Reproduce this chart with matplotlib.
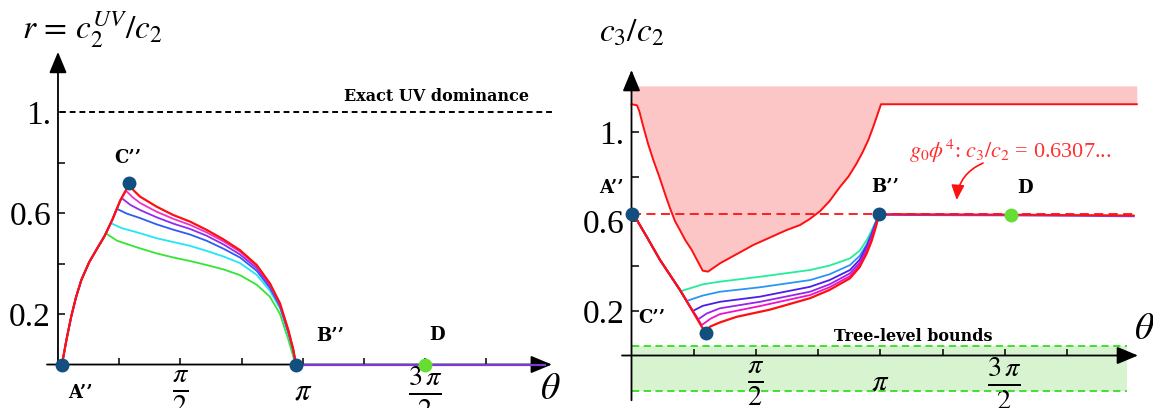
import matplotlib
matplotlib.use("Agg")
import matplotlib.pyplot as plt
import numpy as np

plt.rcParams['font.family'] = ['serif']
plt.rcParams['font.serif'] = ['Liberation Serif', 'DejaVu Serif']
plt.rcParams['mathtext.fontset'] = 'stix'

W, H = 1153, 408

# ---------------- left panel: r = c2^UV / c2 ----------------
# common rising edge A'' -> C''
rise_theta = [0.051, 0.11, 0.17, 0.23, 0.3, 0.4, 0.5, 0.6, 0.7, 0.8, 0.915]
rise_r = [0.0, 0.1, 0.19, 0.265, 0.335, 0.405, 0.458, 0.51, 0.575, 0.65, 0.715]

# falling branches towards B'' (green -> red)
fall_theta = [1.053, 1.267, 1.48, 1.694, 1.909, 2.122, 2.336, 2.551, 2.721, 2.85,
              2.956, 3.02, 3.055]
left_start = {
    "green":   [(0.612, 0.52), (0.76, 0.49)],
    "cyan":    [(0.677, 0.56), (0.82, 0.54)],
    "blue":    [(0.754, 0.617), (0.88, 0.598)],
    "purple":  [(0.818, 0.659), (0.93, 0.632)],
    "magenta": [(0.873, 0.688), (0.96, 0.662)],
    "red":     [(0.915, 0.715), (0.97, 0.690)],
}
left_fall = {
    "green":   [0.46, 0.44, 0.424, 0.41, 0.394, 0.377, 0.354, 0.316, 0.268, 0.20, 0.10, 0.031, 0.0],
    "cyan":    [0.52, 0.5, 0.485, 0.47, 0.45, 0.428, 0.402, 0.355, 0.292, 0.222, 0.122, 0.05, 0.0],
    "blue":    [0.58, 0.555, 0.534, 0.515, 0.49, 0.459, 0.424, 0.371, 0.303, 0.23, 0.128, 0.055, 0.0],
    "purple":  [0.612, 0.583, 0.558, 0.537, 0.51, 0.476, 0.436, 0.381, 0.311, 0.235, 0.132, 0.057, 0.0],
    "magenta": [0.64, 0.605, 0.577, 0.553, 0.523, 0.488, 0.447, 0.389, 0.317, 0.239, 0.135, 0.058, 0.0],
    "red":     [0.665, 0.625, 0.592, 0.566, 0.533, 0.496, 0.453, 0.394, 0.321, 0.242, 0.137, 0.06, 0.0],
}
left_tail_theta = [3.055, 6.25]
left_tail_r = [0.0, 0.0]

left_points = {"A''": (0.051, 0.0), "C''": (0.915, 0.718), "B''": (3.055, 0.0)}
left_D = (4.71, 0.0)
uv_level = 1.0

# ---------------- right panel: c3 / c2 ----------------
phi4_value = 0.6307
desc_theta = [0.0, 0.044, 0.192, 0.36, 0.486, 0.612, 0.739, 0.886, 0.937]
desc_r = [0.6307, 0.62, 0.531, 0.427, 0.36, 0.293, 0.218, 0.129, 0.105]

right_branch = {
    "teal": ([0.625, 0.9, 1.117, 1.622, 2.253, 2.5, 2.758, 2.88, 2.97, 3.03, 3.074, 3.129],
             [0.288, 0.318, 0.330, 0.352, 0.382, 0.402, 0.434, 0.468, 0.516, 0.557, 0.592, 0.632]),
    "lightblue": ([0.697, 0.9, 1.117, 1.622, 2.253, 2.5, 2.758, 2.88, 2.97, 3.03, 3.074, 3.129],
                  [0.244, 0.268, 0.285, 0.305, 0.337, 0.363, 0.404, 0.445, 0.497, 0.547, 0.588, 0.632]),
    "indigo": ([0.773, 0.9, 1.117, 1.622, 2.253, 2.5, 2.758, 2.88, 2.97, 3.03, 3.074, 3.129],
               [0.199, 0.222, 0.240, 0.263, 0.307, 0.337, 0.382, 0.428, 0.489, 0.538, 0.582, 0.632]),
    "purple": ([0.843, 0.95, 1.117, 1.622, 2.253, 2.5, 2.758, 2.88, 2.97, 3.03, 3.074, 3.129],
               [0.162, 0.188, 0.211, 0.240, 0.285, 0.318, 0.367, 0.415, 0.478, 0.530, 0.576, 0.632]),
    "magenta": ([0.886, 1.0, 1.117, 1.622, 2.253, 2.5, 2.758, 2.88, 2.97, 3.03, 3.074, 3.129],
                [0.136, 0.165, 0.185, 0.221, 0.270, 0.305, 0.355, 0.405, 0.468, 0.520, 0.568, 0.632]),
    "red": ([0.937, 0.991, 1.117, 1.328, 1.748, 2.253, 2.5, 2.758, 2.88, 2.97, 3.03, 3.074, 3.129],
            [0.105, 0.129, 0.148, 0.173, 0.205, 0.256, 0.293, 0.345, 0.395, 0.457, 0.510, 0.561, 0.632]),
}
right_tail_theta = [3.129, 4.79, 6.34]
right_tail_r = [0.632, 0.630, 0.626]

upper_theta = [0.0, 0.07, 0.1, 0.149, 0.21, 0.275, 0.35, 0.43, 0.49, 0.55, 0.612, 0.68,
               0.76, 0.83, 0.899, 0.966, 1.117, 1.538, 1.96, 2.127, 2.25, 2.38, 2.5,
               2.633, 2.74, 2.843, 2.92, 2.99, 3.05, 3.096, 3.15, 6.38]
upper_r = [1.123, 1.118, 1.09, 1.023, 0.945, 0.874, 0.80, 0.715, 0.655, 0.60, 0.56, 0.515,
           0.472, 0.425, 0.379, 0.375, 0.412, 0.494, 0.561, 0.583, 0.61, 0.645, 0.69,
           0.754, 0.80, 0.859, 0.91, 0.963, 1.02, 1.067, 1.123, 1.123]
upper_top = 1.205

tree_low, tree_high = -0.16, 0.044
tree_theta = [0.0, 6.256]

right_points = {"A''": (0.0, 0.6307), "C''": (0.937, 0.102), "B''": (3.129, 0.632)}
right_D = (4.79, 0.63)

left_colors = {"green": "#33e633", "cyan": "#22e5f5", "blue": "#2f5cf0",
               "purple": "#8f2cf0", "magenta": "#f030c8", "red": "#ff1010"}
right_colors = {"teal": "#22ee99", "lightblue": "#2a95f5", "indigo": "#4a1ee8",
                "purple": "#9a22ee", "magenta": "#f010c8", "red": "#ff1010"}
dot_blue = "#124e7e"
dot_green = "#66dd33"

tick_pos = np.pi / 4 * np.arange(1, 8)
tick_lbl = ["", r"$\frac{\pi}{2}$", "", r"$\pi$", "", r"$\frac{3\,\pi}{2}$", ""]


def axis_arrows(ax, x0, x1, y0, y1):
    arrow = dict(arrowstyle="-|>,head_length=0.65,head_width=0.27", color="black",
                 lw=1.3, shrinkA=0, shrinkB=0, mutation_scale=20)
    ax.annotate("", xy=(x1, 0), xytext=(x0, 0), arrowprops=arrow, zorder=4,
                annotation_clip=False)
    ax.annotate("", xy=(0, y1), xytext=(0, y0), arrowprops=arrow, zorder=4,
                annotation_clip=False)
    for s in ax.spines.values():
        s.set_visible(False)
    ax.spines["left"].set_position(("data", 0))
    ax.spines["bottom"].set_position(("data", 0))
    ax.set_xticks(tick_pos, tick_lbl, fontsize=22, va="center")
    for lbl in ax.get_xticklabels():
        if "frac" in lbl.get_text():
            lbl.set_fontsize(29)
    ax.set_yticks([0.2, 0.4, 0.6, 0.8, 1.0], ["0.2", "", "0.6", "", "1."], fontsize=24)
    ax.tick_params(axis="x", direction="in", length=5, width=1.1, pad=20)
    ax.tick_params(axis="y", direction="in", length=5, width=1.1, pad=5)
    ax.patch.set_alpha(0)


fig = plt.figure(figsize=(W / 100, H / 100), dpi=100)

# left axes: theta 0 at x=58px, 77.9 px/rad; r 0 at y=364.5px, 252.5 px/unit
axL = fig.add_axes([47 / W, 5.6 / H, 504.9 / W, 351 / H])
axL.set_xlim(-0.141, 6.34)
axL.set_ylim(-0.15, 1.24)
axis_arrows(axL, -0.141, 6.34, -0.015, 1.238)

axL.plot([0.03, 6.34], [uv_level, uv_level], color="black", lw=1.4,
         ls=(0, (3, 2)), zorder=3)
axL.text(4.865, 1.06, "Exact UV dominance", family="DejaVu Serif", fontsize=11.5,
         fontweight="bold", ha="center", va="center")

axL.plot(left_tail_theta, left_tail_r, color="#7a3bd6", lw=1.6, zorder=5)
for name in ["green", "cyan", "blue", "purple", "magenta", "red"]:
    st = left_start[name]
    th = [t for t in rise_theta if t < st[0][0]] + [p[0] for p in st] + fall_theta
    rr = ([r for t, r in zip(rise_theta, rise_r) if t < st[0][0]] + [p[1] for p in st]
          + left_fall[name])
    axL.plot(th, rr, color=left_colors[name], lw=1.6 if name == "red" else 1.3,
             zorder=5, solid_joinstyle="round")

for lab, (t, r) in left_points.items():
    axL.plot(t, r, "o", ms=9, color=dot_blue, zorder=7, clip_on=False)
axL.plot(*left_D, "o", ms=9, color=dot_green, zorder=7)

label_kw = dict(family="DejaVu Serif", fontweight="bold", fontsize=13,
                ha="center", va="center")
axL.text(0.282, -0.114, "A’’", **label_kw)
axL.text(0.899, 0.818, "C’’", **label_kw)
axL.text(3.49, 0.113, "B’’", **label_kw)
axL.text(4.86, 0.117, "D", **label_kw)
axL.text(6.316, -0.098, r"$\theta$", fontsize=27, ha="center", va="center")
fig.text(92 / W, 1 - 30 / H, r"$r\,=\,c_2^{UV}/c_2$", fontsize=24, ha="center", va="center")

# right axes: theta 0 at x=631.5px, 79.2 px/rad; r 0 at y=355.5px, 223.75 px/unit
axR = fig.add_axes([622 / W, 5.5 / H, 516 / W, 332.5 / H])
axR.set_xlim(-0.12, 6.395)
axR.set_ylim(-0.21, 1.276)
axis_arrows(axR, -0.12, 6.395, -0.2, 1.276)

# excluded region above the upper bound
axR.fill_between(upper_theta, upper_r, upper_top, color="#fdc6c6", lw=0, zorder=1)
axR.plot(upper_theta, upper_r, color="#ff1010", lw=1.4, zorder=3)

# tree-level band
axR.fill_between(tree_theta, tree_low, tree_high, color="#d8f3d0", lw=0, zorder=1)
for lev in (tree_low, tree_high):
    axR.plot(tree_theta, [lev, lev], color="#33dd22", lw=1.3, ls=(0, (4, 2.5)), zorder=3)
axR.text(3.558, 0.084, "Tree-level bounds", family="DejaVu Serif", fontsize=11.5,
         fontweight="bold", ha="center", va="center")

axR.plot([0.0, 6.34], [phi4_value, phi4_value], color="#ff1010", lw=1.3,
         ls=(0, (5, 3)), zorder=3)
axR.plot(right_tail_theta, np.array(right_tail_r) - 0.003, color="#8a3ae0", lw=1.6, zorder=5)
axR.plot(right_tail_theta, right_tail_r, color="#ff1010", lw=1.3, zorder=5)

for name in ["teal", "lightblue", "indigo", "purple", "magenta", "red"]:
    bt, br = right_branch[name]
    th = [t for t in desc_theta if t < bt[0]] + bt
    rr = [r for t, r in zip(desc_theta, desc_r) if t < bt[0]] + br
    axR.plot(th, rr, color=right_colors[name], lw=1.6 if name == "red" else 1.3,
             zorder=5, solid_joinstyle="round")

for lab, (t, r) in right_points.items():
    axR.plot(t, r, "o", ms=9, color=dot_blue, zorder=7, clip_on=False)
axR.plot(*right_D, "o", ms=9, color=dot_green, zorder=7)

axR.text(-0.25, 0.747, "A’’", **label_kw)
axR.text(0.255, 0.168, "C’’", **label_kw)
axR.text(3.201, 0.754, "B’’", **label_kw)
axR.text(4.968, 0.749, "D", **label_kw)
axR.text(6.48, 0.114, r"$\theta$", fontsize=27, ha="center", va="center")

axR.text(4.78, 0.911, r"$g_0\phi^4$: $c_3/c_2$ = 0.6307...", color="#ff3030",
         fontsize=16, ha="center", va="center")
axR.annotate("", xy=(4.106, 0.695), xytext=(4.438, 0.86),
             arrowprops=dict(arrowstyle="-|>,head_length=0.5,head_width=0.22",
                             color="#ff1010", lw=1.2, shrinkA=0, shrinkB=0,
                             mutation_scale=18, connectionstyle="arc3,rad=0.3"))
fig.text(632 / W, 1 - 33 / H, r"$c_3/c_2$", fontsize=24, ha="center", va="center")

fig.savefig("out.png", dpi=100)
